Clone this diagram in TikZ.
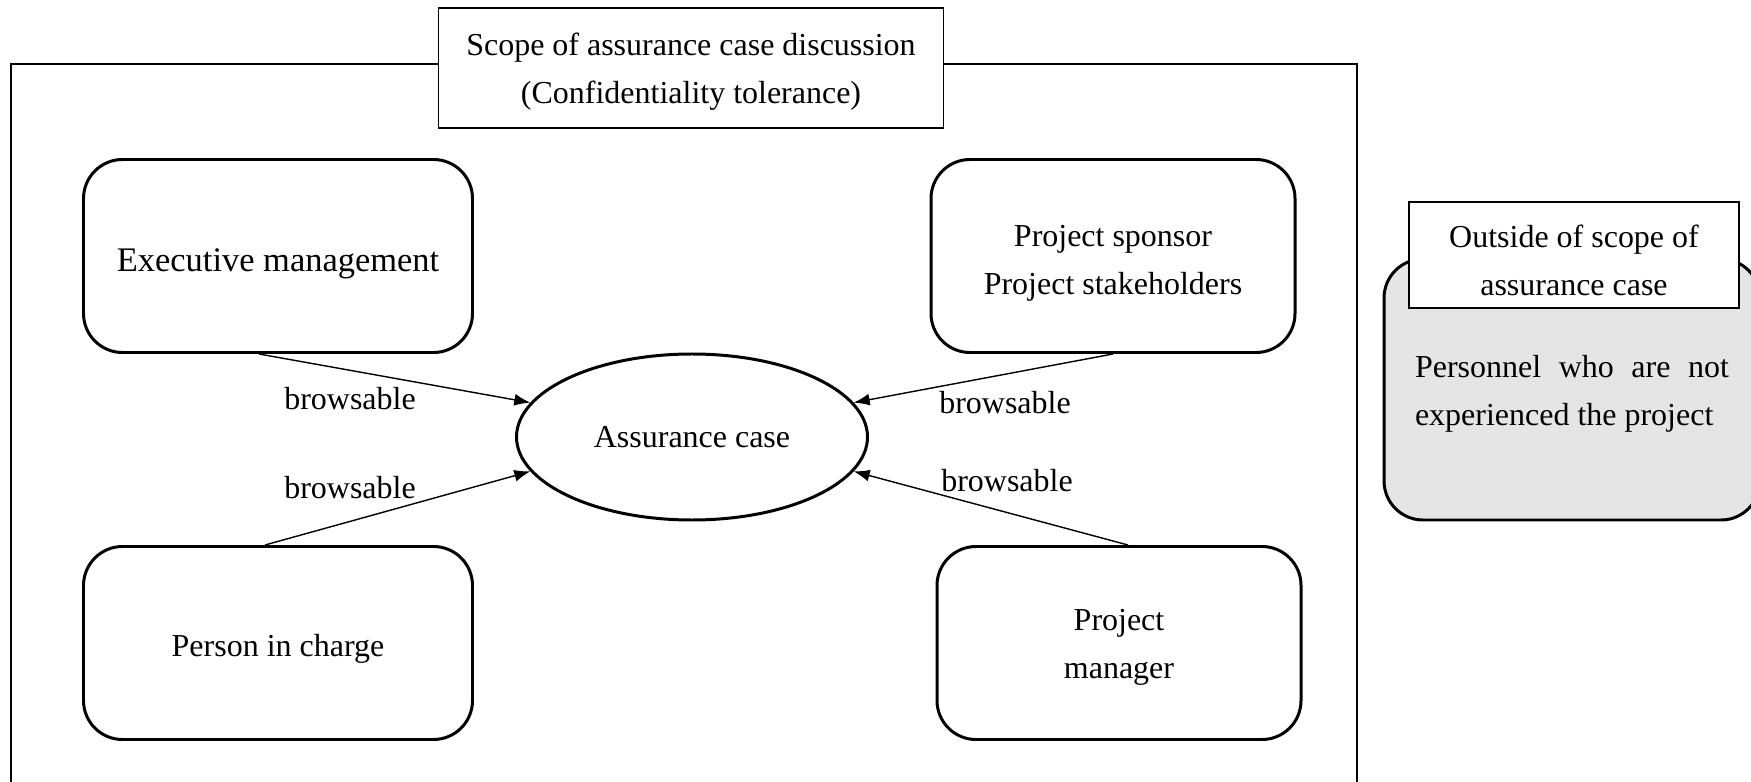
\documentclass[tikz,border=0pt]{standalone}
\usepackage{fontspec}
\setmainfont{Liberation Serif}
\usetikzlibrary{shapes.geometric,arrows.meta}
\newcommand{\txtlift}[1]{\rule{0pt}{#1}}

\begin{document}
\begin{tikzpicture}[x=0.1mm,y=-0.1mm,
        every node/.style={font=\fontsize{9.1}{13.7}\selectfont},
        main/.style={draw, rounded corners=3.9mm, line width=0.85pt, minimum height=19.3mm, align=center},
        case/.style={draw, ellipse, line width=0.85pt, minimum width=35.1mm, minimum height=16.6mm, inner sep=0pt},
        tag/.style={draw, fill=white, line width=0.4pt, align=center},
        link/.style={-{Latex[length=1.6mm,width=1.2mm]}, line width=0.4pt}]
        \useasboundingbox (0,0) rectangle (1751,782);
        % scope frame, open at the bottom
        \draw[line width=0.6pt] (11,790) -- (11,64) -- (1357,64) -- (1357,790);
        \node[tag, minimum width=50.5mm, minimum height=12mm] (scope) at (691,68) {\txtlift{8.3pt}Scope of assurance case discussion\\(Confidentiality tolerance)};
        \node[case] (1) at (692,437) {Assurance case};
        \node[main, minimum width=38.9mm] (2) at (278,256) {\fontsize{9.8}{13.7}\selectfont\txtlift{10.9pt}Executive management};
        \node[main, minimum width=36.4mm] (3) at (1113,256) {\txtlift{10pt}Project sponsor\\Project stakeholders};
        \node[main, minimum width=38.9mm] (4) at (278,643) {\txtlift{9.4pt}Person in charge};
        \node[main, minimum width=36.4mm] (5) at (1119,643) {\txtlift{8.3pt}Project\\manager};
        % outside of the scope
        \node[main, fill=black!10, minimum width=37.6mm, minimum height=26.1mm, text width=31.4mm, align=justify] (6) at (1572,389.5) {\hyphenpenalty10000\relax\txtlift{8.8pt}Personnel who are not experienced the project};
        \node[tag, minimum width=33mm, minimum height=10.6mm] (7) at (1574,255) {\txtlift{9.4pt}Outside of scope of\\assurance case};
        \node (b2) at (350,399) {browsable};
        \node (b3) at (1005,403) {browsable};
        \node (b4) at (350,488) {browsable};
        \node (b5) at (1007,481) {browsable};
        \draw[link] ([xshift=-1.9mm]2.south) -- (1.168);
        \draw[link] (3.south) -- (1.12);
        \draw[link] ([xshift=-1.3mm]4.north) -- (1.192);
        \draw[link] ([xshift=0.9mm]5.north) -- (1.-12);
        %\draw[link] (6) -- (1);
\end{tikzpicture}
\end{document}
